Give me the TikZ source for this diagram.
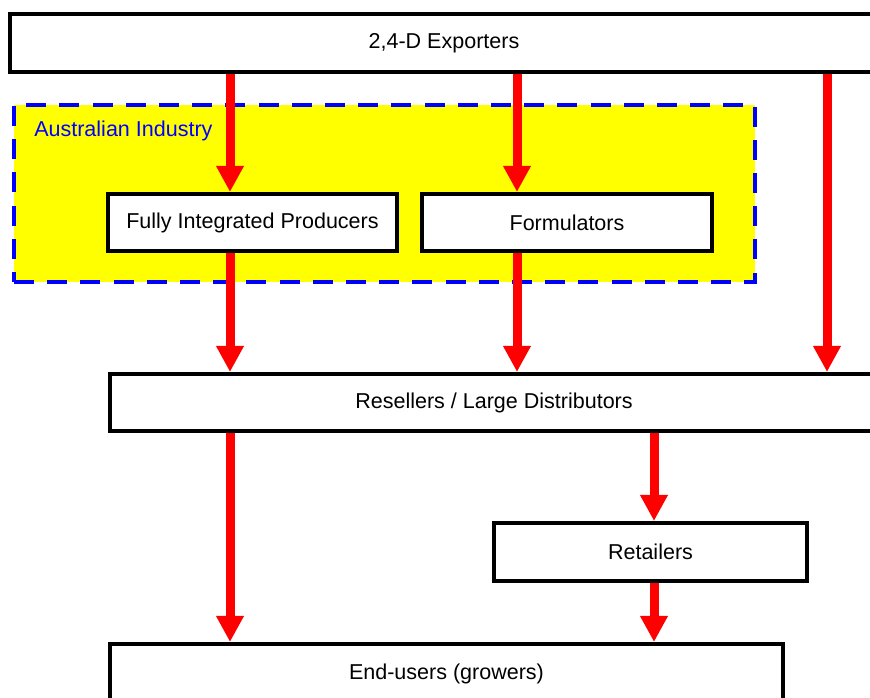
\documentclass[tikz,border=0pt]{standalone}
\usepackage{fontspec}
\setmainfont{Liberation Sans}
\usetikzlibrary{positioning,calc}
\usetikzlibrary{arrows.meta}
\definecolor{FlowRed}{RGB}{255,0,0}
\definecolor{IndBlue}{RGB}{0,0,255}
\definecolor{IndYellow}{RGB}{255,255,0}
\tikzset{
	box/.style={draw=black,fill=white,line width=0.1cm,inner sep=0pt,
		minimum height=1.425cm,font=\fontsize{15.3}{18}\selectfont},
	region/.style={draw=IndBlue,fill=IndYellow,line width=0.1cm,
		dash pattern=on 0.5cm off 0.33cm,inner sep=0pt},
	flow/.style={draw=FlowRed,line width=0.225cm,
		-{Triangle[width=0.65cm,length=0.65cm]}},
}
\begin{document}
\begin{tikzpicture}[x=0.025cm,y=-0.025cm]
			\clip (0,0) rectangle (870,698);
			\useasboundingbox (0,0) rectangle (870,698);
			% Australian industry region
			\node[region,minimum width=18.525cm,minimum height=4.425cm] (ind) at (384.5,193.5) {};
			\node[anchor=west,inner sep=0pt,text=IndBlue,font=\fontsize{15.3}{18}\selectfont] (indlabel) at (34,131) {Australian Industry};
			% boxes
			\node[box,minimum width=21.7cm,minimum height=1.45cm] (exp) at (444,43) {2,4-D Exporters};
			\node[box,minimum width=7.225cm] (fip) at (252.5,222.5) {Fully Integrated Producers};
			\node[box,minimum width=7.25cm] (form) at (567,222.5) {Formulators};
			\node[box,minimum width=19.2cm] (res) at (494,402.5) {Resellers / Large Distributors};
			\node[box,minimum width=7.825cm,minimum height=1.45cm] (ret) at (650.5,552) {Retailers};
			\node[box,minimum width=16.825cm,minimum height=1.5cm] (end) at (446.5,674) {End-users (growers)};
			% columns of the flows
			\coordinate (c1) at (230,0);
			\coordinate (c2) at (517,0);
			\coordinate (c3) at (827,0);
			\coordinate (c4) at (654,0);
			\draw[flow] (exp.south -| c1) -- (fip.north -| c1);
			\draw[flow] (exp.south -| c2) -- (form.north -| c2);
			\draw[flow] (exp.south -| c3) -- (res.north -| c3);
			\draw[flow] (fip.south -| c1) -- (res.north -| c1);
			\draw[flow] (form.south -| c2) -- (res.north -| c2);
			\draw[flow] (res.south -| c1) -- (end.north -| c1);
			\draw[flow] (res.south -| c4) -- (ret.north -| c4);
			\draw[flow] (ret.south -| c4) -- (end.north -| c4);
		\end{tikzpicture}
\end{document}
